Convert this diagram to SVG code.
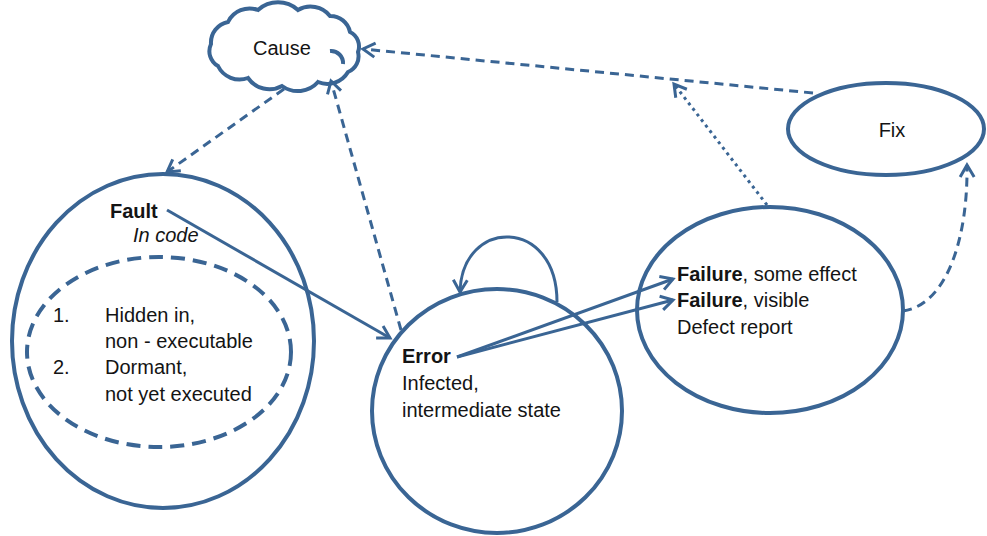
<svg xmlns="http://www.w3.org/2000/svg" width="987" height="536" viewBox="0 0 987 536">
  <style>
    .shape { fill: #ffffff; stroke: #3a6594; stroke-width: 4; }
    .inner { fill: none; stroke: #3a6594; stroke-width: 4; stroke-dasharray: 14 8; }
    .conn { fill: none; stroke: #3a6594; stroke-width: 3; }
    .dash { stroke-dasharray: 9 6; }
    .dot { stroke-dasharray: 3 4; }
    text { font-family: "Liberation Sans", Arial, sans-serif; font-size: 20px; fill: #141414; }
    .b { font-weight: bold; }
    .i { font-style: italic; }
  </style>
  <defs>
    <marker id="open" viewBox="-14 -10 17 20" refX="0" refY="0" markerWidth="17" markerHeight="20" markerUnits="userSpaceOnUse" orient="auto">
      <path d="M -12,-7 L 0,0 L -12,7" fill="none" stroke="#3a6594" stroke-width="3" stroke-dasharray="none" stroke-linejoin="miter"/>
    </marker>
  </defs>

  <rect width="987" height="536" fill="#ffffff"/>

  <g id="cause">
    <path class="shape" d="M 218,66 A 17,17 0 0 1 211,44 A 21,21 0 0 1 228,22 A 24,24 0 0 1 258,10 A 30,30 0 0 1 298,10 A 25,25 0 0 1 330,16 A 20,20 0 0 1 350,32 A 16,16 0 0 1 358,52 A 17,17 0 0 1 348,72 A 24,24 0 0 1 318,82 A 27,27 0 0 1 282,86 A 26,26 0 0 1 248,78 A 24,24 0 0 1 218,66 Z"/>
    <path d="M 330,51 A 12,12 0 0 1 343,64" fill="none" stroke="#3a6594" stroke-width="4"/>
    <text x="253" y="55">Cause</text>
  </g>

  <g id="fault">
    <ellipse class="shape" cx="163" cy="341" rx="151" ry="167"/>
    <ellipse class="inner" cx="159" cy="352" rx="132" ry="95"/>
    <text x="110" y="218" class="b">Fault</text>
    <text x="133" y="242" class="i">In code</text>
    <text x="53" y="322">1.</text>
    <text x="105" y="322">Hidden in,</text>
    <text x="105" y="348">non - executable</text>
    <text x="53" y="374">2.</text>
    <text x="105" y="374">Dormant,</text>
    <text x="105" y="401">not yet executed</text>
  </g>

  <g id="error">
    <ellipse class="shape" cx="497" cy="411" rx="125" ry="122"/>
    <text x="402" y="363" class="b">Error</text>
    <text x="402" y="390">Infected,</text>
    <text x="402" y="417">intermediate state</text>
  </g>

  <g id="failure">
    <ellipse class="shape" cx="770" cy="310" rx="133" ry="103"/>
    <text x="677" y="281"><tspan class="b">Failure</tspan>, some effect</text>
    <text x="677" y="307"><tspan class="b">Failure</tspan>, visible</text>
    <text x="677" y="334">Defect report</text>
  </g>

  <g id="fix">
    <ellipse class="shape" cx="886" cy="129" rx="98" ry="46"/>
    <text x="892" y="137" text-anchor="middle">Fix</text>
  </g>

  <g id="connectors">
    <!-- cause to fault -->
    <path class="conn dash" d="M 284,89 L 167,172" marker-end="url(#open)"/>
    <!-- error back to cause -->
    <path class="conn dash" d="M 401,330 L 331,81" marker-end="url(#open)"/>
    <!-- fix back to cause -->
    <path class="conn dash" d="M 813,93 L 363,49" marker-end="url(#open)"/>
    <!-- failure traced toward cause -->
    <path class="conn dot" d="M 767,205 L 674,84" marker-end="url(#open)"/>
    <!-- failure to fix -->
    <path class="conn dash" d="M 903,311 C 946,305 968,240 967,165" marker-end="url(#open)"/>
    <!-- fault to error -->
    <path class="conn" d="M 167,210 L 390,338" marker-end="url(#open)"/>
    <!-- error self loop -->
    <path class="conn" d="M 557,302 C 557,217 462,217 460,292" marker-end="url(#open)"/>
    <!-- error to failures -->
    <path class="conn" d="M 457,357 L 673,279" marker-end="url(#open)"/>
    <path class="conn" d="M 457,357 L 673,300" marker-end="url(#open)"/>
  </g>
</svg>
